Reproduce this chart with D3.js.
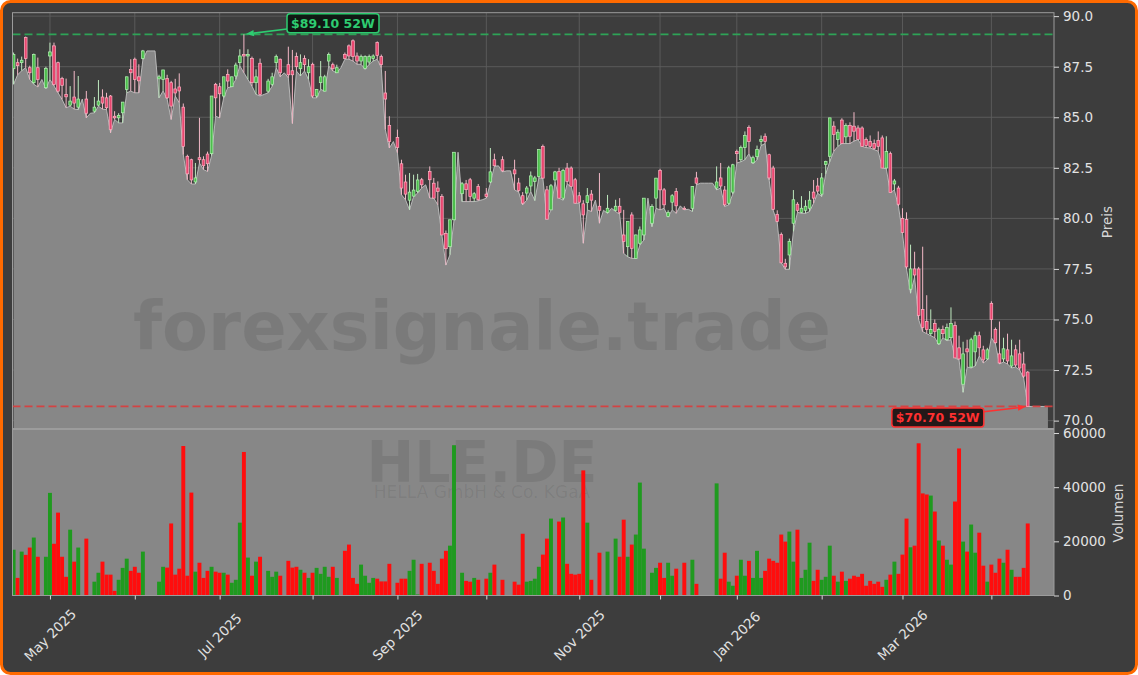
<!DOCTYPE html>
<html><head><meta charset="utf-8">
<script src="https://cdn.jsdelivr.net/npm/d3@7"></script>
<style>html,body{margin:0;padding:0;background:#ffffff;}svg{display:block;font-family:"DejaVu Sans",sans-serif;}</style>
</head><body>
<svg id="c" width="1138" height="675"></svg>
<script>
// ---------- DATA ----------
const ticker = "HLE.DE";
const companyName = "HELLA GmbH & Co. KGaA";
const watermark = "forexsignale.trade";
const startDate = "2025-04-16";
const holidays = ["2025-04-18","2025-04-21","2025-05-01","2025-12-24","2025-12-25","2025-12-26","2025-12-31","2026-01-01","2026-04-03","2026-04-06"];
const priceTicks = [70,72.5,75,77.5,80,82.5,85,87.5,90];
const volumeTicks = [0,20000,40000,60000];
const monthNames = ["Jan","Feb","Mar","Apr","May","Jun","Jul","Aug","Sep","Oct","Nov","Dec"];

const openP = [
87.40,87.70,87.70,88.94,87.45,86.71,87.45,86.87,86.46,88.03,
88.53,87.70,86.91,86.13,85.60,86.00,85.50,85.90,85.90,85.20,
85.30,85.60,86.00,85.96,86.05,85.05,84.97,85.22,86.38,87.37,
87.87,87.00,87.90,88.28,88.28,88.28,86.90,86.87,86.91,86.71,
86.40,86.50,85.50,83.07,82.90,81.80,83.00,82.90,83.18,83.20,
86.63,86.51,86.05,87.12,86.51,87.04,87.70,88.11,88.03,87.90,
86.71,87.67,86.13,86.29,86.63,87.70,87.87,87.20,87.60,87.30,
88.00,87.40,87.90,87.20,87.62,86.05,86.71,86.29,87.78,87.60,
87.20,87.45,88.11,88.53,88.78,88.03,87.78,87.42,87.73,87.90,
88.69,88.00,86.20,84.60,83.80,84.00,82.70,81.80,80.90,81.10,
81.33,81.91,81.66,82.32,81.74,81.50,81.08,79.26,78.60,79.93,
83.27,81.22,81.71,81.91,81.00,81.58,80.92,81.20,81.80,82.90,
82.60,82.90,82.35,82.35,82.40,81.75,81.12,81.25,81.60,81.83,
82.07,83.56,81.41,80.42,81.90,82.32,81.00,82.49,82.49,81.91,
81.12,80.72,80.78,81.20,80.90,80.60,80.40,80.30,80.50,80.40,
80.60,79.18,78.60,80.17,78.02,78.77,79.18,81.00,79.76,81.00,
82.37,81.41,80.10,80.80,81.33,80.62,80.50,80.45,80.50,82.00,
81.74,81.74,81.74,81.74,81.50,82.00,81.40,80.75,81.30,83.30,
82.90,83.50,84.50,82.75,83.05,83.80,84.06,83.15,82.49,80.20,
79.20,77.78,78.19,79.76,80.70,80.30,80.40,80.50,81.30,81.60,
81.20,82.66,83.07,84.56,83.90,84.86,84.03,84.60,84.56,84.47,
84.47,83.90,83.80,83.70,83.86,83.98,82.49,83.20,81.70,81.50,
80.00,79.95,76.50,77.50,77.50,75.50,74.90,74.30,74.80,73.80,
74.50,74.00,74.10,74.70,73.60,71.80,73.55,72.65,73.40,74.20,
73.50,73.05,75.80,74.50,73.30,73.05,73.50,72.70,73.50,73.30,
72.80,72.40,70.70,70.70,70.70,70.70,70.70];

const highP = [
88.20,87.90,88.00,88.99,87.55,88.15,87.95,86.87,87.50,88.69,
88.69,87.75,87.00,86.91,86.54,87.29,87.04,85.90,86.30,85.20,
86.00,86.84,86.38,86.21,86.10,85.30,85.20,85.75,87.00,87.87,
87.95,87.62,88.33,88.28,88.28,88.28,87.10,87.34,87.10,86.80,
86.90,87.17,85.68,83.15,82.95,82.74,84.97,83.07,83.30,86.05,
86.70,86.70,87.00,87.37,87.00,87.70,88.36,89.10,88.36,88.00,
87.37,87.90,86.13,86.90,87.20,88.10,87.90,87.20,88.49,88.33,
88.20,88.11,88.06,87.87,87.70,86.40,87.78,87.10,88.20,87.70,
87.60,87.45,88.20,88.60,88.85,88.20,88.10,88.06,88.10,88.11,
88.75,88.10,87.29,85.05,83.80,84.39,82.90,82.16,82.24,82.16,
82.20,82.00,81.66,82.57,82.00,81.83,81.20,79.40,79.93,83.27,
83.27,81.80,81.90,82.00,81.30,81.70,80.92,81.50,83.48,83.20,
82.60,83.07,82.35,82.35,82.90,82.00,81.30,81.60,82.32,82.10,
83.40,83.65,81.60,81.70,82.35,82.50,82.45,82.74,82.57,82.00,
81.30,80.90,81.50,81.40,80.90,82.24,80.40,81.16,80.50,80.92,
81.00,80.42,79.84,80.30,79.20,79.60,81.00,81.00,80.70,82.00,
82.45,81.50,80.40,81.20,81.50,80.62,80.60,80.45,81.60,82.30,
81.74,81.74,81.74,81.74,82.57,82.74,81.60,82.60,82.70,83.40,
83.60,84.30,84.60,83.10,83.60,84.10,84.20,83.20,82.60,80.40,
79.30,78.00,79.00,81.40,80.80,81.10,80.90,81.35,81.90,82.00,
82.24,82.85,84.97,84.80,84.40,84.95,84.70,84.75,85.25,84.60,
84.55,84.00,84.10,83.90,84.30,84.10,84.06,83.30,81.95,81.61,
80.50,80.30,78.70,78.35,77.60,78.60,76.20,75.50,75.00,74.60,
74.70,74.80,75.60,74.90,74.20,73.90,74.00,74.10,74.40,74.40,
73.70,73.60,75.90,74.60,74.90,74.10,74.30,74.00,73.75,74.00,
73.40,72.45,70.70,70.70,70.70,70.70,70.70];

const lowP = [
86.63,87.10,87.30,87.45,86.87,86.63,86.50,86.87,86.41,86.87,
86.55,86.21,85.88,85.47,85.55,85.40,85.38,85.90,84.97,85.20,
85.22,85.55,85.40,85.38,84.23,84.89,84.72,84.72,86.21,86.29,
86.21,86.21,87.85,88.28,88.28,88.28,85.96,86.30,85.90,84.89,
86.05,85.72,83.15,81.91,81.70,81.70,82.74,82.41,82.32,83.10,
85.05,84.97,85.96,86.46,86.51,86.87,87.54,87.20,86.87,86.54,
86.13,86.05,86.13,86.21,86.54,87.45,87.00,87.20,86.95,84.69,
87.29,87.04,87.29,86.87,85.96,85.96,86.38,86.29,87.54,87.29,
87.20,87.45,87.87,87.87,87.78,87.62,87.62,87.37,87.62,87.78,
87.87,87.45,84.39,83.48,83.80,83.24,81.17,80.92,80.42,81.08,
81.25,81.50,81.66,81.00,81.00,80.67,79.18,77.69,78.20,79.90,
83.27,80.83,80.83,80.83,80.83,80.87,80.92,81.00,81.74,82.57,
82.60,82.30,82.35,82.35,81.41,81.30,80.67,80.90,81.33,80.88,
82.00,81.99,79.96,80.42,81.80,81.00,80.90,81.70,81.58,80.75,
80.75,78.77,80.42,80.34,80.90,79.76,80.40,80.25,80.50,80.34,
80.20,78.27,78.10,78.02,78.02,78.68,78.93,81.00,79.59,80.50,
80.42,80.50,80.06,80.42,80.25,80.62,80.42,80.45,80.34,81.66,
81.74,81.74,81.74,81.74,81.41,81.50,80.59,80.67,81.20,82.74,
82.80,82.90,83.20,82.70,82.90,83.60,83.70,81.90,80.40,79.80,
77.80,77.48,77.48,79.35,80.30,80.25,80.25,80.34,80.75,81.25,
81.08,82.20,82.80,83.32,83.56,83.70,83.70,83.70,83.82,83.90,
83.56,83.50,83.48,83.40,83.32,82.49,82.45,81.28,81.40,80.60,
79.26,77.50,76.30,77.10,75.00,74.40,74.30,74.20,74.10,73.75,
74.10,73.95,74.00,73.10,73.00,71.40,72.65,72.60,72.70,73.20,
72.85,73.00,74.10,73.80,72.80,72.90,72.80,72.60,72.65,72.50,
72.10,70.70,70.70,70.70,70.70,70.70,70.70];

const closeP = [
88.11,87.55,87.82,87.90,87.20,88.11,86.87,86.87,87.42,88.23,
86.62,86.29,86.58,86.01,85.80,85.70,85.90,85.90,85.20,85.20,
85.50,85.80,85.70,85.47,84.39,84.97,85.09,85.75,87.00,87.20,
86.87,86.80,88.28,88.28,88.28,88.28,87.00,87.34,85.96,85.55,
86.20,86.30,83.56,82.20,81.90,82.00,82.90,82.60,82.70,86.05,
85.96,86.16,87.00,86.79,87.00,87.58,88.03,88.03,88.11,86.71,
87.00,86.13,86.13,86.79,87.00,88.00,87.20,87.20,87.10,87.10,
87.50,87.70,87.60,87.50,86.05,86.38,87.00,87.00,88.11,87.40,
87.45,87.45,87.90,88.03,88.00,87.78,88.00,88.00,88.00,88.03,
88.06,87.60,85.90,83.80,83.80,83.50,81.50,81.20,81.30,81.40,
81.90,81.66,81.66,81.91,81.00,81.33,79.18,78.50,79.93,83.27,
83.27,81.71,81.42,81.08,81.22,80.92,80.92,81.08,82.30,82.60,
82.60,82.35,82.35,82.35,82.20,81.38,80.75,81.50,82.10,82.00,
83.40,81.99,79.96,81.61,82.30,81.00,82.37,81.83,81.58,80.75,
80.80,80.17,81.12,80.90,80.90,80.40,80.40,80.50,80.50,80.60,
80.30,78.85,79.84,78.52,79.18,79.43,81.00,81.00,80.59,81.99,
81.41,80.67,80.30,81.12,80.62,80.62,80.45,80.45,81.58,81.74,
81.74,81.74,81.74,81.74,81.80,81.60,80.67,82.50,82.65,83.20,
83.50,84.10,83.80,83.00,83.40,83.90,83.81,82.00,80.45,79.85,
77.80,77.60,78.85,80.92,80.40,80.50,80.60,80.90,81.00,81.35,
82.00,82.82,84.97,84.15,84.26,83.70,84.59,84.06,84.31,83.90,
83.56,83.60,83.55,83.45,83.56,82.49,83.30,81.28,81.85,80.70,
79.30,77.60,77.50,77.20,75.20,74.60,74.50,74.50,74.40,74.50,
74.30,74.60,74.80,73.10,73.05,73.30,73.40,74.00,74.20,73.60,
73.00,73.50,75.00,73.85,72.85,73.55,72.95,73.20,72.75,72.60,
72.20,70.70,70.70,70.70,70.70,70.70,70.70];

const volume = [
16900,6500,16200,15000,17700,21400,14300,0,14300,37900,
19100,30600,14300,6900,24300,12500,17700,0,21000,0,
5100,8400,12500,7700,7700,1700,5800,10200,13600,9100,
10600,8400,16200,0,0,0,5100,10600,10300,26600,
7700,9900,55200,7300,38000,8800,12100,6500,9100,10600,
8800,8400,8400,7700,4700,5800,26900,53000,14000,7300,
12500,14300,0,9100,6900,8800,7300,0,12800,10300,
10600,9500,8400,6500,8400,10200,8000,10600,6900,10600,
6500,0,16500,18800,6500,4300,11400,7300,4700,6500,
6200,5200,5200,11700,0,4700,6200,6200,9100,13200,
400,11700,0,12100,9100,4300,13600,16500,18400,55500,
0,8400,5400,5100,6500,5800,0,6200,8400,11400,
0,5800,0,0,5100,4000,22800,5100,5400,6200,
10600,15100,21000,28400,300,27300,28800,11700,8000,7700,
8000,46200,26900,5800,0,15800,0,16200,0,21000,
14300,28000,14300,18800,22500,41700,17300,0,8400,10200,
12100,6500,12100,7300,9900,0,12100,0,13200,4300,
0,0,0,0,41400,6200,15800,5100,3600,7300,
13200,7300,12800,6500,16500,6500,9100,13600,12800,12100,
22500,19900,23600,12500,24300,6500,9500,19500,5400,9500,
5800,6900,18400,7300,5100,8800,5400,6200,7300,6900,
8000,3600,5400,4300,5100,3200,5800,7700,12500,8000,
15100,28400,17800,18400,56200,37700,37300,36900,31000,20300,
18400,13200,11400,34700,54300,19900,16200,26200,15800,23200,
11000,5100,11400,8400,13600,12100,16900,9500,6900,6900,
10200,26600,0,0,0,0,0];

// ---------- trading-day calendar (categories) ----------
const n = closeP.length;
const fmtDay = d3.utcFormat("%Y-%m-%d");
const dates = [];
{
  let d = new Date(startDate + "T00:00:00Z");
  while (dates.length < n) {
    const wd = d.getUTCDay();
    if (wd !== 0 && wd !== 6 && !holidays.includes(fmtDay(d))) dates.push(new Date(d));
    d = new Date(d.getTime() + 86400000);
  }
}
const monthIdx = [];
for (let i = 1; i < n; i++) if (dates[i].getUTCMonth() !== dates[i-1].getUTCMonth()) monthIdx.push(i);

// ---------- LAYOUT ----------
const W = 1138, H = 675;
const P = {l:12.5, r:1054, t:12.7, b:428.5};
const VP = {t:429.5, b:595.5};
const BG = "#3d3d3d", AREA = "#878787", TXT = "#e2e2e2";

const svg = d3.select("#c");
const x = d3.scaleLinear().domain([-0.27, n + 0.5]).range([P.l, P.r]);
const yP = d3.scaleLinear().domain([69.61, 90.17]).range([P.b, P.t]);
const yV = d3.scaleLinear().domain([0, 61300]).range([VP.b, VP.t]);
const step = x(1) - x(0);
const idx = d3.range(n);

// background with rounded orange frame
svg.append("rect").attr("x",1.5).attr("y",1.5).attr("width",W-3).attr("height",H-3)
  .attr("rx",9).attr("fill",BG).attr("stroke","#ff6a00").attr("stroke-width",3);

const defs = svg.append("defs");
defs.append("clipPath").attr("id","cp").append("rect")
  .attr("x",P.l).attr("y",P.t).attr("width",P.r-P.l).attr("height",P.b-P.t);
defs.append("clipPath").attr("id","cv").append("rect")
  .attr("x",P.l).attr("y",VP.t).attr("width",P.r-P.l).attr("height",VP.b-VP.t);

// ---------- PRICE PANEL ----------
const gp = svg.append("g").attr("clip-path","url(#cp)");
// grid
gp.selectAll(".hg").data(priceTicks).join("line")
  .attr("x1",P.l).attr("x2",P.r).attr("y1",d=>yP(d)).attr("y2",d=>yP(d))
  .attr("stroke","#5e5e5e").attr("stroke-width",0.9);
gp.selectAll(".vg").data(monthIdx).join("line")
  .attr("x1",d=>x(d)).attr("x2",d=>x(d)).attr("y1",P.t).attr("y2",P.b)
  .attr("stroke","#5e5e5e").attr("stroke-width",0.9);

// area under lows
gp.append("path").datum(idx)
  .attr("d", d3.area().x(i=>x(i)).y0(P.b).y1(i=>yP(lowP[i])))
  .attr("fill",AREA);
gp.append("path").datum(idx)
  .attr("d", d3.line().x(i=>x(i)).y(i=>yP(lowP[i])))
  .attr("fill","none").attr("stroke","#c2c2c2").attr("stroke-width",0.9);

// watermark
gp.append("text").attr("x",482).attr("y",350).attr("text-anchor","middle")
  .attr("font-size",67).attr("font-weight","bold").attr("fill","#000").attr("fill-opacity",0.09)
  .text(watermark);

// 52W lines
const hiIdx = d3.maxIndex(highP), loIdx = d3.minIndex(lowP);
const hiVal = highP[hiIdx], loVal = lowP[loIdx];
gp.append("line").attr("x1",P.l).attr("x2",P.r).attr("y1",yP(hiVal)).attr("y2",yP(hiVal))
  .attr("stroke","#2ea357").attr("stroke-width",1.8).attr("stroke-dasharray","8,4");
gp.append("line").attr("x1",P.l).attr("x2",P.r).attr("y1",yP(loVal)).attr("y2",yP(loVal))
  .attr("stroke","#dc3c3c").attr("stroke-width",1.7).attr("stroke-dasharray","8,4").attr("stroke-opacity",0.9);

// candles
const active = idx.filter(i => volume[i] > 0);
const isUp = i => closeP[i] >= openP[i];
gp.selectAll(".wick").data(active).join("line")
  .attr("x1",i=>x(i)).attr("x2",i=>x(i))
  .attr("y1",i=>yP(highP[i])).attr("y2",i=>yP(lowP[i]))
  .attr("stroke",i=>isUp(i)?"#bfe9bf":"#f3b9c7").attr("stroke-width",1);
const bw = 2.7;
gp.selectAll(".body").data(active).join("rect")
  .attr("x",i=>x(i)-bw/2).attr("width",bw)
  .attr("y",i=>yP(Math.max(openP[i],closeP[i])))
  .attr("height",i=>Math.max(1, Math.abs(yP(openP[i])-yP(closeP[i]))))
  .attr("fill",i=>isUp(i)?"#4cbf4c":"#e8466f")
  .attr("stroke",i=>isUp(i)?"#b6f2b6":"#ffb3c4").attr("stroke-width",0.7);

// ---------- VOLUME PANEL ----------
svg.append("rect").attr("x",P.l).attr("y",VP.t).attr("width",P.r-P.l).attr("height",VP.b-VP.t).attr("fill",AREA);
const gv = svg.append("g").attr("clip-path","url(#cv)");
gv.append("text").attr("x",482).attr("y",482).attr("text-anchor","middle")
  .attr("font-size",57).attr("font-weight","bold").attr("fill","#000").attr("fill-opacity",0.085).text(ticker);
gv.append("text").attr("x",482).attr("y",498).attr("text-anchor","middle")
  .attr("font-size",17).attr("fill","#000").attr("fill-opacity",0.07).text(companyName);
const vw = step*0.97;
gv.selectAll(".vb").data(active).join("rect")
  .attr("x",i=>x(i)-vw/2).attr("width",vw)
  .attr("y",i=>yV(volume[i])).attr("height",i=>yV(0)-yV(volume[i]))
  .attr("fill",i=>isUp(i)?"#1f9a1f":"#ff0d0d");

// frames
svg.append("rect").attr("x",P.l).attr("y",P.t).attr("width",P.r-P.l).attr("height",P.b-P.t)
  .attr("fill","none").attr("stroke","#9c9c9c").attr("stroke-width",1);
svg.append("rect").attr("x",P.l).attr("y",VP.t).attr("width",P.r-P.l).attr("height",VP.b-VP.t)
  .attr("fill","none").attr("stroke","#9c9c9c").attr("stroke-width",1);

// ---------- AXES ----------
function styleAxis(g){
  g.select(".domain").remove();
  g.selectAll(".tick line").attr("stroke","#d8d8d8");
  g.selectAll(".tick text").attr("fill",TXT).attr("font-size",13.5).attr("font-family","DejaVu Sans, sans-serif");
}
svg.append("g").attr("transform",`translate(${P.r},0)`)
  .call(d3.axisRight(yP).tickValues(priceTicks).tickFormat(d3.format(".1f")).tickSize(5).tickPadding(4))
  .call(styleAxis);
svg.append("g").attr("transform",`translate(${P.r},0)`)
  .call(d3.axisRight(yV).tickValues(volumeTicks).tickFormat(d3.format("d")).tickSize(5).tickPadding(4))
  .call(styleAxis);
svg.append("g").attr("transform",`translate(0,${VP.b})`)
  .call(d3.axisBottom(x).tickValues(monthIdx).tickFormat("").tickSize(4))
  .call(styleAxis);

// x labels (every second month), rotated 45°
const labelIdx = monthIdx.filter(i => dates[i].getUTCMonth() % 2 === 0);
svg.selectAll(".xl").data(labelIdx).join("text")
  .attr("transform",i=>`translate(${x(i)},635) rotate(-45)`)
  .attr("text-anchor","middle").attr("dominant-baseline","central")
  .attr("fill",TXT).attr("font-size",13.5)
  .text(i=>monthNames[dates[i].getUTCMonth()] + " " + dates[i].getUTCFullYear());

// axis titles
svg.append("text").attr("transform","translate(1107,222) rotate(-90)").attr("text-anchor","middle")
  .attr("dominant-baseline","central").attr("fill","#d6d6d6").attr("font-size",13.5).text("Preis");
svg.append("text").attr("transform","translate(1118,513) rotate(-90)").attr("text-anchor","middle")
  .attr("dominant-baseline","central").attr("fill","#d6d6d6").attr("font-size",13.5).text("Volumen");

// ---------- 52W ANNOTATIONS ----------
function annotate(i, val, dx, dy, col, boxFill){
  const px = x(i), py = yP(val);
  const cx = px + dx, cy = py + dy;
  const label = "$" + val.toFixed(2) + " 52W";
  const g = svg.append("g");
  const t = g.append("text").attr("x",cx).attr("y",cy).attr("text-anchor","middle")
    .attr("dominant-baseline","central").attr("font-size",12.5).attr("font-weight","bold")
    .attr("fill",col).text(label);
  const bb = t.node().getBBox();
  const padX = 4, padY = 3;
  const bx = bb.x - padX, by = cy - 9.5, bwid = bb.width + 2*padX, bh = 19;
  g.insert("rect","text").attr("x",bx).attr("y",by).attr("width",bwid).attr("height",bh)
    .attr("rx",3).attr("fill",boxFill).attr("fill-opacity",0.9).attr("stroke",col).attr("stroke-width",1.5);
  // arrow from box edge toward the point
  const edgeX = dx > 0 ? bx : bx + bwid;
  const tEdge = (edgeX - cx) / (px - cx);
  const sx = edgeX, sy = cy + (py - cy) * tEdge;
  const ang = Math.atan2(py - sy, px - sx);
  const tipX = px - Math.cos(ang)*2, tipY = py - Math.sin(ang)*2;
  const hl = 8, hw = 3.2;
  const baseX = tipX - Math.cos(ang)*hl, baseY = tipY - Math.sin(ang)*hl;
  g.append("line").attr("x1",sx).attr("y1",sy).attr("x2",baseX).attr("y2",baseY)
    .attr("stroke",col).attr("stroke-width",1.6);
  g.append("path").attr("d",`M${tipX},${tipY}L${baseX - Math.sin(ang)*hw},${baseY + Math.cos(ang)*hw}L${baseX + Math.sin(ang)*hw},${baseY - Math.cos(ang)*hw}Z`)
    .attr("fill",col);
}
annotate(hiIdx, hiVal, 89, -11, "#2ecc71", "#0b140e");
annotate(loIdx, loVal, -90, 11, "#ff3030", "#1a0c0c");
</script>
</body></html>
